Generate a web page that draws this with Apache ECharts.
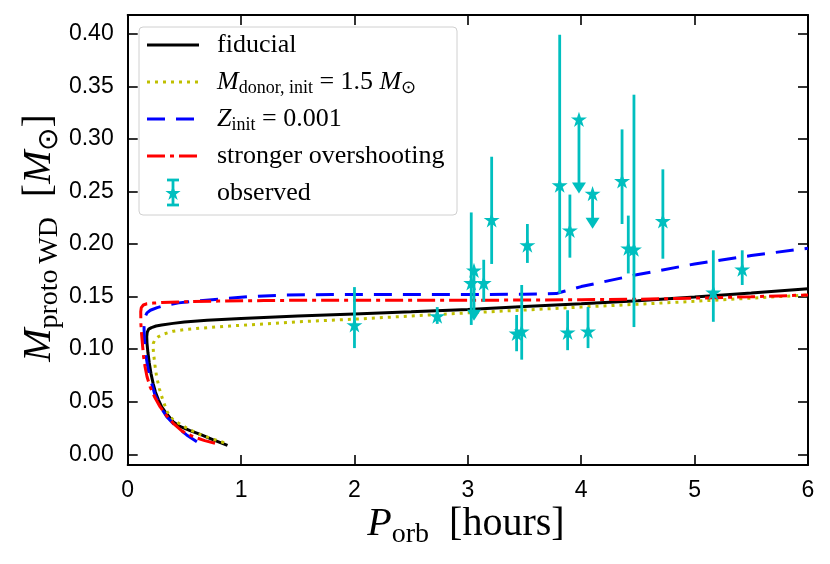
<!DOCTYPE html>
<html><head><meta charset="utf-8">
<script src="https://cdn.jsdelivr.net/npm/echarts@6/dist/echarts.min.js"></script>
<style>html,body{margin:0;padding:0;background:#fff}#c{width:830px;height:564px}</style>
</head><body><div id="c"></div>
<script>
// ---- data ----
const xTicks = [0, 1, 2, 3, 4, 5, 6];
const yTicks = [0, 0.05, 0.10, 0.15, 0.20, 0.25, 0.30, 0.35, 0.40];

const fidX = [0.88,0.75,0.64,0.55,0.46,0.40,0.34,0.30,0.27,0.245,0.225,0.205,0.19,0.178,0.17,0.168,0.172,0.185,0.21,0.25,0.30,0.40,0.5,0.7,1.0,1.5,2.0,2.5,3.0,3.5,4.0,4.5,5.0,5.5,6.0];
const fidY = [0.0085,0.014,0.019,0.0225,0.0265,0.031,0.039,0.045,0.052,0.059,0.067,0.077,0.087,0.097,0.106,0.112,0.116,0.119,0.1205,0.122,0.123,0.1245,0.1258,0.1275,0.1292,0.1315,0.1335,0.1355,0.1378,0.1405,0.1432,0.146,0.1495,0.1533,0.1575];

const donX = [0.85,0.75,0.62,0.52,0.40,0.35,0.31,0.28,0.255,0.24,0.228,0.224,0.226,0.24,0.27,0.32,0.40,0.5,0.65,0.9,1.2,1.5,2.0,2.5,3.0,3.5,4.0,4.5,5.0,5.5,6.0];
const donY = [0.011,0.0145,0.0195,0.025,0.0326,0.040,0.0516,0.062,0.0738,0.085,0.096,0.102,0.1056,0.109,0.1118,0.1145,0.117,0.1185,0.120,0.122,0.124,0.126,0.1285,0.1315,0.1345,0.1372,0.140,0.1427,0.1455,0.1485,0.1515];

const zX = [0.61,0.52,0.43,0.344,0.29,0.241,0.21,0.182,0.165,0.153,0.146,0.144,0.15,0.17,0.2,0.26,0.344,0.45,0.638,0.85,1.08,1.4,1.8,2.5,3.0,3.5,3.78,3.85,4.0,4.5,5.0,5.5,6.0];
const zY = [0.012,0.0184,0.026,0.0358,0.045,0.0564,0.068,0.080,0.091,0.1023,0.112,0.1214,0.130,0.1345,0.137,0.1395,0.142,0.144,0.146,0.148,0.150,0.1515,0.152,0.152,0.152,0.1522,0.1528,0.155,0.1595,0.171,0.181,0.189,0.196];

const ovX = [0.77,0.68,0.579,0.48,0.402,0.34,0.285,0.235,0.197,0.17,0.153,0.14,0.132,0.122,0.116,0.115,0.12,0.138,0.17,0.226,0.3,0.49,0.8,1.2,1.52,2.0,2.5,3.0,3.5,4.0,4.5,5.0,5.5,6.0];
const ovY = [0.0105,0.013,0.0167,0.022,0.0295,0.037,0.0453,0.055,0.0643,0.074,0.0833,0.093,0.1023,0.115,0.1246,0.1356,0.1395,0.142,0.1432,0.1438,0.1443,0.1451,0.1457,0.1462,0.1465,0.1465,0.1465,0.1465,0.1467,0.147,0.1475,0.1485,0.1498,0.1515];

const obsX  = [2.00, 2.73, 3.03, 3.14, 3.21, 3.43, 3.475, 3.525, 3.81, 3.88, 3.90, 4.06, 4.36, 4.415, 4.465, 4.72, 5.165, 5.42];
const obsY  = [0.123,0.1315,0.163,0.163,0.223,0.115,0.117,0.199,0.256,0.116,0.213,0.117,0.260,0.196,0.195,0.222,0.154,0.176];
const obsLo = [0.101,0.124,0.123,0.145,0.181,0.098,0.090,0.182,0.153,0.099,0.187,0.101,0.219,0.172,0.121,0.186,0.126,0.161];
const obsHi = [0.159,0.140,0.230,0.185,0.283,0.1325,0.161,0.219,0.399,0.137,0.247,0.140,0.309,0.227,0.342,0.271,0.194,0.194];

// upper limits (arrow pointing down)
const ulX  = [3.054, 3.98, 4.10];
const ulY  = [0.175, 0.3186, 0.248];
const ulLo = [0.127, 0.248, 0.2145];

// ---- styles ----
const CY = '#00bfbf';
const SERIF = 'Liberation Serif';
const LW = 3;
function starPts(cx, cy, R) {
  const pts = [];
  for (let k = 0; k < 10; k++) {
    const a = -Math.PI / 2 + k * Math.PI / 5;
    const r = k % 2 ? R * 0.382 : R;
    pts.push([cx + r * Math.cos(a), cy + r * Math.sin(a)]);
  }
  return pts;
}
const starPath = 'path://' + starPts(50, 50, 50).map((p, i) => (i ? 'L' : 'M') + p[0].toFixed(2) + ' ' + p[1].toFixed(2)).join(' ') + ' Z';
const zip = (a, b) => a.map((v, i) => [v, b[i]]);

const chart = echarts.init(document.getElementById('c'), null, {renderer: 'canvas'});

const axisCommon = {
  type: 'value',
  axisLine: {show: true, onZero: false, lineStyle: {color: '#000', width: 2}},
  splitLine: {show: false}
};
const tickStyle = {show: true, inside: true, length: 10, lineStyle: {color: '#000', width: 1.6}};
const labelFont = {color: '#000', fontFamily: 'Liberation Sans', fontSize: 23};

const ymin = -0.0102, ymax = 0.4178;

const option = {
  animation: false,
  backgroundColor: '#fff',
  grid: {left: 127.7, right: 22, top: 15, bottom: 99, containLabel: false},
  xAxis: [
    Object.assign({}, axisCommon, {position: 'bottom', min: 0, max: 6, interval: 1,
      axisTick: tickStyle,
      axisLabel: Object.assign({show: true, margin: 14, customValues: xTicks, formatter: v => String(v)}, labelFont)}),
    Object.assign({}, axisCommon, {position: 'top', min: 0, max: 6, interval: 1,
      axisTick: tickStyle, axisLabel: {show: false}})
  ],
  yAxis: [
    Object.assign({}, axisCommon, {position: 'left', min: ymin, max: ymax,
      axisTick: Object.assign({customValues: yTicks}, tickStyle),
      axisLabel: Object.assign({show: true, margin: 14, customValues: yTicks, formatter: v => v.toFixed(2)}, labelFont)}),
    Object.assign({}, axisCommon, {position: 'right', min: ymin, max: ymax,
      axisTick: Object.assign({customValues: yTicks}, tickStyle), axisLabel: {show: false}})
  ],
  series: [
    {name: 'fiducial', type: 'line', data: zip(fidX, fidY), showSymbol: false, symbol: 'none', z: 2,
      lineStyle: {color: '#000', width: LW}},
    {name: 'donor', type: 'line', data: zip(donX, donY), showSymbol: false, symbol: 'none', z: 3,
      lineStyle: {color: '#bfbf00', width: LW, type: [3, 5], cap: 'butt'}},
    {name: 'Z', type: 'line', data: zip(zX, zY), showSymbol: false, symbol: 'none', z: 4,
      lineStyle: {color: '#0000ff', width: LW, type: [18, 11], cap: 'butt'}},
    {name: 'overshoot', type: 'line', data: zip(ovX, ovY), showSymbol: false, symbol: 'none', z: 5,
      lineStyle: {color: '#ff0000', width: LW, type: [18, 5, 4, 5], cap: 'butt'}},
    {name: 'errbars', type: 'custom', z: 6,
      data: obsX.map((x, i) => [x, obsLo[i], obsHi[i]]),
      renderItem: function (params, api) {
        const a = api.coord([api.value(0), api.value(1)]);
        const b = api.coord([api.value(0), api.value(2)]);
        return {type: 'line', shape: {x1: a[0], y1: a[1], x2: b[0], y2: b[1]},
          style: {stroke: CY, lineWidth: 2.8}};
      }},
    {name: 'uplims', type: 'custom', z: 6,
      data: ulX.map((x, i) => [x, ulY[i], ulLo[i]]),
      renderItem: function (params, api) {
        const a = api.coord([api.value(0), api.value(1)]);
        const b = api.coord([api.value(0), api.value(2)]);
        return {type: 'group', children: [
          {type: 'line', shape: {x1: a[0], y1: a[1], x2: b[0], y2: b[1] - 9}, style: {stroke: CY, lineWidth: 2.8}},
          {type: 'polygon', shape: {points: [[b[0] - 7, b[1] - 11], [b[0] + 7, b[1] - 11], [b[0], b[1]]]}, style: {fill: CY}}
        ]};
      }},
    {name: 'observed', type: 'scatter', z: 7,
      data: zip(obsX, obsY).concat(zip(ulX, ulY)),
      symbol: starPath, symbolSize: 16, symbolKeepAspect: true,
      itemStyle: {color: CY, opacity: 1}}
  ],
  graphic: buildGraphic()
};

function buildGraphic() {
  const g = [];
  const richLegend = {
    i: {fontFamily: SERIF, fontStyle: 'italic', fontSize: 26, lineHeight: 30, fill: '#000'},
    r: {fontFamily: SERIF, fontSize: 26, lineHeight: 30, fill: '#000'},
    s: {fontFamily: SERIF, fontSize: 18, lineHeight: 17, verticalAlign: 'bottom', fill: '#000'}
  };
  // legend frame
  g.push({type: 'rect', shape: {x: 139, y: 27, width: 318, height: 188, r: 4},
    style: {fill: 'rgba(255,255,255,0.85)', stroke: '#d0d0d0', lineWidth: 1}, z: 100});
  const rows = [45, 82, 119, 156, 193];
  const handles = [
    {color: '#000', dash: null},
    {color: '#bfbf00', dash: [3, 5]},
    {color: '#0000ff', dash: [18, 11]},
    {color: '#ff0000', dash: [18, 5, 4, 5]}
  ];
  handles.forEach((h, k) => {
    g.push({type: 'line', shape: {x1: 147, y1: rows[k], x2: 199, y2: rows[k]},
      style: {stroke: h.color, lineWidth: LW, lineDash: h.dash, lineCap: 'butt'}, z: 101});
  });
  // observed icon
  g.push({type: 'line', shape: {x1: 173, y1: 180, x2: 173, y2: 205}, style: {stroke: CY, lineWidth: 2.8}, z: 101});
  g.push({type: 'line', shape: {x1: 167, y1: 180, x2: 179, y2: 180}, style: {stroke: CY, lineWidth: 2.8}, z: 101});
  g.push({type: 'line', shape: {x1: 167, y1: 205, x2: 179, y2: 205}, style: {stroke: CY, lineWidth: 2.8}, z: 101});
  g.push({type: 'polygon', shape: {points: starPts(173, 193.5, 8)}, style: {fill: CY}, z: 102});
  const texts = [
    '{r|fiducial}',
    '{i|M}{s|donor, init}{r| = 1.5 }{i|M}{s|\u2299}',
    '{i|Z}{s|init}{r| = 0.001}',
    '{r|stronger overshooting}',
    '{r|observed}'
  ];
  texts.forEach((t, k) => {
    g.push({type: 'text', x: 217, y: rows[k], z: 102,
      style: {text: t, rich: richLegend, align: 'left', verticalAlign: 'middle', fontFamily: SERIF, fontSize: 26, fill: '#000'}});
  });
  // axis titles
  const richAxis = {
    i: {fontFamily: SERIF, fontStyle: 'italic', fontSize: 40, lineHeight: 48, fill: '#000'},
    r: {fontFamily: SERIF, fontSize: 40, lineHeight: 48, fill: '#000'},
    s: {fontFamily: SERIF, fontSize: 28, lineHeight: 24, verticalAlign: 'bottom', fill: '#000'}
  };
  g.push({type: 'text', x: 466, y: 524.5, z: 102,
    style: {text: '{i|P}{s|orb}{r|\u2002[hours]}', rich: richAxis, align: 'center', verticalAlign: 'middle', fontFamily: SERIF, fontSize: 40}});
  g.push({type: 'text', x: 39.5, y: 238, rotation: Math.PI / 2, z: 102,
    style: {text: '{i|M}{s|proto\u2009WD}{r|\u2002[}{i|M}{s|\u2299}{r|]}', rich: richAxis, align: 'center', verticalAlign: 'middle', fontFamily: SERIF, fontSize: 40}});
  return g;
}

chart.setOption(option);
</script>
</body></html>
